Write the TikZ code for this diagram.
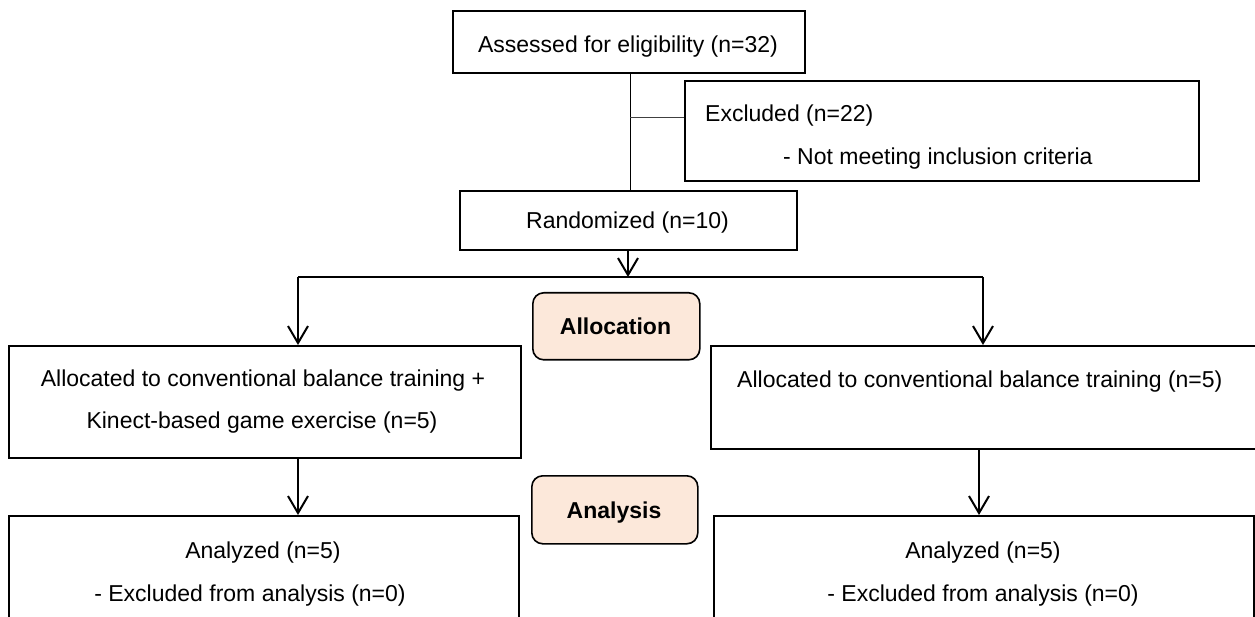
\documentclass[tikz,border=0pt]{standalone}
\usepackage{fontspec}
\setmainfont{Liberation Sans}
\usetikzlibrary{arrows.meta}
\definecolor{peach}{RGB}{252,232,218}
\begin{document}
\begin{tikzpicture}[x=1pt,y=-1pt,
  box/.style={draw, line width=2pt, inner sep=0pt, anchor=north west},
  tag/.style={draw, line width=1.6pt, rounded corners=11pt, fill=peach, inner sep=0pt, anchor=north west},
  txt/.style={font=\fontsize{23}{28}\selectfont, inner sep=0pt, anchor=base},
  txtb/.style={font=\fontsize{23}{28}\selectfont\bfseries, inner sep=0pt, anchor=base},
  thinline/.style={line width=1pt},
  branch/.style={line width=1.3pt},
  arr/.style={line width=2pt, -{Straight Barb[length=17pt,width=20pt]}},
]
\useasboundingbox (0,0) rectangle (1255,617);
\clip (0,0) rectangle (1255,617);

% boxes
\node[box, minimum width=352pt, minimum height=62pt] (assess) at (452,10) {};
\node[box, minimum width=514pt, minimum height=100pt] (excl) at (684,80) {};
\node[box, minimum width=337pt, minimum height=59pt] (rand) at (459,190) {};
\node[tag, minimum width=167pt, minimum height=67pt] (alloc) at (532,292) {};
\node[box, minimum width=512pt, minimum height=112pt] (lalloc) at (8,345) {};
\node[box, minimum width=560pt, minimum height=103pt] (ralloc) at (710,345) {};
\node[tag, minimum width=166pt, minimum height=68pt] (analysis) at (531,475) {};
\node[box, minimum width=510pt, minimum height=140pt] (lanal) at (8,515) {};
\node[box, minimum width=540pt, minimum height=140pt] (ranal) at (713,515) {};

% texts
\node[txt] (assessT) at (628,53) {Assessed for eligibility (n=32)};
\node[txt, anchor=base west] (exclT1) at (705,122) {Excluded (n=22)};
\node[txt, anchor=base west] (exclT2) at (783,165) {- Not meeting inclusion criteria};
\node[txt] (randT) at (627.5,229) {Randomized (n=10)};
\node[txtb] (allocT) at (615.5,335) {Allocation};
\node[txt] (lallocT1) at (263,386) {Allocated to conventional balance training +};
\node[txt] (lallocT2) at (262,428) {Kinect-based game exercise (n=5)};
\node[txt, anchor=base west] (rallocT) at (737,388) {Allocated to conventional balance training (n=5)};
\node[txtb] (analysisT) at (614,518) {Analysis};
\node[txt] (lanalT1) at (263,558) {Analyzed (n=5)};
\node[txt] (lanalT2) at (250,601) {- Excluded from analysis (n=0)};
\node[txt] (ranalT1) at (983,558) {Analyzed (n=5)};
\node[txt] (ranalT2) at (983,601) {- Excluded from analysis (n=0)};

% connectors
\coordinate (vx) at (630,0);
\coordinate (j) at (630,118);
\coordinate (bm) at (628,277);
\coordinate (bl) at (298,277);
\coordinate (br) at (983,277);
\coordinate (rx) at (979,0);
\draw[thinline] (assess.south -| vx) -- (rand.north -| vx);
\draw[thinline, black!75] (j) -- (j -| excl.west);
\draw[arr] (rand.south -| bm) -- (bm);
\draw[branch] (bl) -- (br);
\draw[arr] (bl) -- (bl |- lalloc.north);
\draw[arr] (br) -- (br |- ralloc.north);
\draw[arr] (lalloc.south -| bl) -- (lanal.north -| bl);
\draw[arr] (ralloc.south -| rx) -- (ranal.north -| rx);
\end{tikzpicture}
\end{document}
